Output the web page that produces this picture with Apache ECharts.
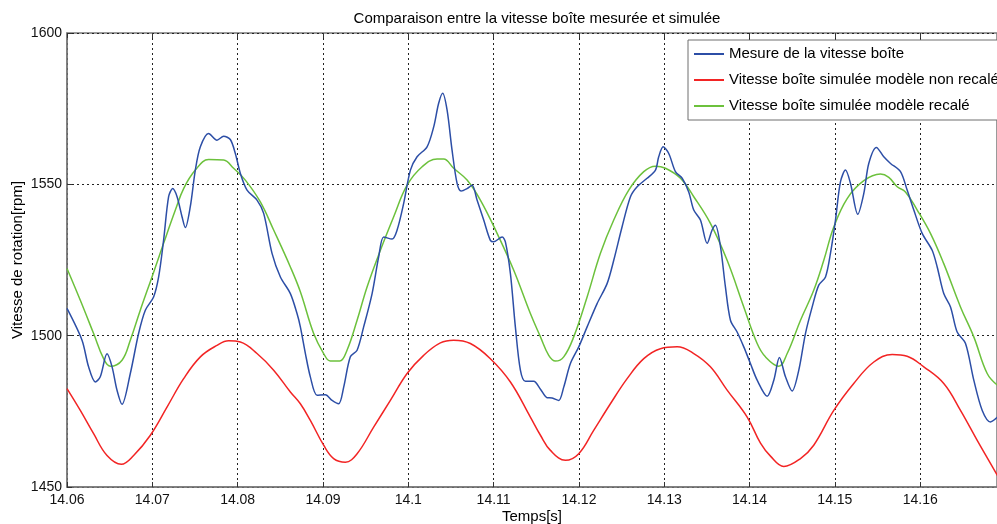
<!DOCTYPE html>
<html>
<head>
<meta charset="utf-8">
<script src="https://cdn.jsdelivr.net/npm/echarts@6/dist/echarts.min.js"></script>
<style>
html,body{margin:0;padding:0;background:#fff;}
#chart{width:997px;height:524px;}
</style>
</head>
<body>
<div id="chart"></div>
<script>
// ---- data (time [s], speed [rpm]) ----
const measTime = [14.06000,14.06176,14.06253,14.06332,14.06390,14.06469,14.06528,14.06586,14.06645,14.06742,14.06839,14.06918,14.07015,14.07074,14.07132,14.07191,14.07238,14.07290,14.07348,14.07387,14.07445,14.07504,14.07563,14.07660,14.07758,14.07836,14.07914,14.07973,14.08032,14.08110,14.08227,14.08305,14.08403,14.08501,14.08618,14.08696,14.08735,14.08794,14.08852,14.08931,14.09028,14.09107,14.09184,14.09243,14.09321,14.09400,14.09477,14.09576,14.09653,14.09712,14.09810,14.09869,14.09946,14.10025,14.10103,14.10220,14.10298,14.10356,14.10403,14.10455,14.10513,14.10572,14.10619,14.10689,14.10748,14.10806,14.10884,14.10962,14.11001,14.11100,14.11138,14.11197,14.11255,14.11314,14.11373,14.11470,14.11549,14.11627,14.11686,14.11763,14.11822,14.11900,14.11998,14.12096,14.12213,14.12330,14.12408,14.12506,14.12604,14.12682,14.12799,14.12897,14.12935,14.12987,14.13053,14.13131,14.13210,14.13287,14.13346,14.13424,14.13503,14.13561,14.13600,14.13659,14.13717,14.13776,14.13854,14.13932,14.14010,14.14089,14.14206,14.14284,14.14350,14.14421,14.14499,14.14577,14.14655,14.14734,14.14811,14.14890,14.14948,14.15007,14.15065,14.15124,14.15183,14.15268,14.15339,14.15397,14.15487,14.15573,14.15652,14.15769,14.15847,14.15925,14.16023,14.16140,14.16199,14.16276,14.16355,14.16433,14.16531,14.16628,14.16727,14.16824,14.16906];
const measRpm = [1509,1498.5,1489.7,1484.7,1486.4,1494,1489.7,1482,1477.3,1487.5,1500.7,1508.4,1512.8,1519.4,1531.5,1545.9,1548.6,1545.9,1539.3,1535.7,1542.6,1554.7,1562.4,1566.8,1564.6,1565.9,1564.8,1560.2,1553.6,1548.1,1544.8,1540.4,1527.2,1519.4,1513.9,1507.3,1502.9,1494.1,1486.4,1480.3,1480.5,1478.6,1477.5,1483,1493,1495.2,1502.9,1513.9,1526,1532.6,1531.9,1534.9,1543.7,1554.7,1559.1,1562.4,1569,1576.8,1580.1,1574.5,1561.3,1550.3,1547.8,1548.6,1549.7,1544.8,1538.2,1531.5,1531,1532.6,1531,1520.5,1502.9,1488.6,1484.9,1484.9,1482.3,1479.5,1479.4,1478.6,1483,1490.8,1496.3,1502.9,1510.6,1517.2,1524.9,1536,1545.9,1549.2,1552,1554.7,1559.1,1562.4,1560.2,1554.2,1552,1547.5,1541.5,1538.2,1530.5,1534.9,1536.5,1529.4,1516.1,1505.1,1501.2,1496.3,1490.8,1485.3,1480,1485.3,1492.8,1486.4,1481.7,1488.6,1500.7,1509.5,1516.7,1519.4,1527.2,1538.2,1550.8,1554.7,1550.3,1540.1,1547,1556.9,1562.2,1559.1,1556.9,1554.2,1548.1,1541.5,1533.8,1528.2,1522.7,1513.9,1509.5,1501.2,1497.4,1485.3,1475.3,1471.5,1473.1];

const rawTime = [14.06000,14.06156,14.06312,14.06469,14.06637,14.06781,14.06977,14.07172,14.07367,14.07563,14.07758,14.07894,14.08032,14.08227,14.08422,14.08618,14.08735,14.08852,14.09008,14.09125,14.09263,14.09400,14.09594,14.09790,14.09986,14.10180,14.10376,14.10532,14.10728,14.10962,14.11197,14.11431,14.11549,14.11666,14.11842,14.11998,14.12173,14.12369,14.12565,14.12760,14.12955,14.13151,14.13346,14.13541,14.13737,14.13972,14.14128,14.14245,14.14401,14.14597,14.14752,14.14987,14.15221,14.15456,14.15672,14.15847,14.16042,14.16276,14.16472,14.16668,14.16906];
const rawRpm = [1482.5,1475.3,1467.6,1460.4,1457.5,1460.4,1467.1,1476.4,1485.8,1493,1496.8,1498.3,1497.9,1494.1,1488.6,1481.4,1477.5,1472,1463.8,1459.4,1458.2,1461,1469.8,1478.6,1487.5,1493.5,1497.6,1498.5,1497.4,1492.4,1484.7,1473.1,1467.1,1462.1,1458.8,1461,1468.7,1477.5,1485.8,1492.4,1495.7,1496.3,1494.1,1489.7,1482,1473.1,1464.5,1460.2,1456.8,1459.4,1463.8,1475.3,1484.2,1491.3,1493.8,1493.2,1489.7,1484.2,1475.3,1465.4,1453.8];

const fitTime = [14.06000,14.06156,14.06312,14.06429,14.06508,14.06645,14.06742,14.06859,14.06996,14.07132,14.07270,14.07367,14.07504,14.07660,14.07836,14.07953,14.08090,14.08266,14.08422,14.08618,14.08735,14.08891,14.09008,14.09087,14.09196,14.09282,14.09400,14.09517,14.09673,14.09829,14.09986,14.10162,14.10338,14.10415,14.10532,14.10689,14.10845,14.11041,14.11236,14.11431,14.11549,14.11646,14.11724,14.11822,14.11939,14.12096,14.12252,14.12408,14.12584,14.12760,14.12897,14.13014,14.13190,14.13346,14.13541,14.13737,14.13932,14.14089,14.14186,14.14342,14.14441,14.14597,14.14752,14.14870,14.14987,14.15144,14.15339,14.15534,14.15632,14.15730,14.15827,14.15965,14.16120,14.16276,14.16472,14.16628,14.16785,14.16906];
const fitRpm = [1522.2,1511.7,1500.7,1492.4,1489.9,1491.9,1498.5,1508.4,1519.4,1530.5,1541.5,1548.6,1554.7,1558.2,1558,1555.3,1551.4,1544.2,1534.9,1522.7,1514.5,1500.7,1494.1,1491.6,1491.6,1495.2,1505.1,1516.1,1528.2,1539.3,1549.7,1555.8,1558.4,1558.4,1555.3,1551.4,1544.8,1533.8,1521.6,1507.3,1499.6,1493.5,1491.6,1493,1499.6,1512.8,1527.2,1538.2,1548.1,1554.2,1556,1555.3,1552,1545.9,1537.1,1524.9,1509.5,1497.4,1493,1489.9,1494.1,1505.1,1515,1524.9,1535.9,1545.3,1551.2,1553.4,1552.3,1549.2,1547.5,1541.5,1533.8,1523.8,1509.5,1499.6,1487.5,1483.6];

const seriesNames = ['Mesure de la vitesse boîte','Vitesse boîte simulée modèle non recalé','Vitesse boîte simulée modèle recalé'];
const yTicks = {min:1450, max:1600, interval:50};
const xTicks = {min:14.06, max:14.169, interval:0.01};

function pairs(t, v){ return t.map((x,i)=>[x, v[i]]); }

const FONT = '"Liberation Sans", Arial, sans-serif';
const chart = echarts.init(document.getElementById('chart'), null, {renderer:'canvas'});
const gridLine = {show:true, lineStyle:{color:'#222', type:[2,3], width:1}};
const axisLineStyle = {show:true, lineStyle:{color:'#7a7a7a', width:1.5}};
const colors = ['#2c4ea6','#f22424','#6cc13c'];

chart.setOption({
  animation:false,
  backgroundColor:'#fff',
  title:{
    text:'Comparaison entre la vitesse boîte mesurée et simulée',
    left:532, top:6, textAlign:'center',
    textStyle:{fontFamily:FONT, fontSize:15, fontWeight:'normal', color:'#000'}
  },
  grid:{left:67, right:0, top:33, bottom:37, show:true, borderColor:'#7a7a7a', borderWidth:1.5,
        backgroundColor:'#fff', containLabel:false, outerBoundsMode:'none'},
  legend:{
    orient:'vertical', left:688, top:40,
    padding:[6,10,6,6], itemWidth:30, itemHeight:2, itemGap:10, icon:'rect',
    backgroundColor:'#fff', borderColor:'#6e6e6e', borderWidth:1,
    textStyle:{fontFamily:FONT, fontSize:15, lineHeight:16, color:'#000'},
    data:seriesNames
  },
  xAxis:[{
    type:'value', min:xTicks.min, max:xTicks.max, interval:xTicks.interval,
    name:'Temps[s]', nameLocation:'middle', nameGap:22, nameMoveOverlap:false,
    nameTextStyle:{fontFamily:FONT, fontSize:15, color:'#000'},
    axisLine:axisLineStyle,
    axisTick:{show:true, inside:true, length:5, lineStyle:{color:'#333'}},
    axisLabel:{fontFamily:FONT, fontSize:14, color:'#111', margin:6, showMaxLabel:false,
      formatter:v=>String(parseFloat(v.toFixed(2)))},
    splitLine:gridLine
  },{
    type:'value', position:'top', min:xTicks.min, max:xTicks.max, interval:xTicks.interval,
    axisLine:{show:false}, axisLabel:{show:false}, splitLine:{show:false},
    axisTick:{show:true, inside:true, length:5, lineStyle:{color:'#333'}}
  }],
  yAxis:{
    type:'value', min:yTicks.min, max:yTicks.max, interval:yTicks.interval,
    name:'Vitesse de rotation[rpm]', nameLocation:'middle', nameGap:42, nameMoveOverlap:false,
    nameTextStyle:{fontFamily:FONT, fontSize:15, color:'#000'},
    axisLine:axisLineStyle,
    axisTick:{show:true, inside:true, length:5, lineStyle:{color:'#333'}},
    axisLabel:{fontFamily:FONT, fontSize:14, color:'#111', margin:5, formatter:v=>String(v)},
    splitLine:gridLine
  },
  series:[
    {name:seriesNames[0], type:'line', data:pairs(measTime, measRpm), symbol:'none', smooth:0.3,
     lineStyle:{color:colors[0], width:1.5}, itemStyle:{color:colors[0]}, z:4},
    {name:seriesNames[1], type:'line', data:pairs(rawTime, rawRpm), symbol:'none', smooth:0.4,
     lineStyle:{color:colors[1], width:1.5}, itemStyle:{color:colors[1]}, z:3},
    {name:seriesNames[2], type:'line', data:pairs(fitTime, fitRpm), symbol:'none', smooth:0.4,
     lineStyle:{color:colors[2], width:1.5}, itemStyle:{color:colors[2]}, z:3}
  ]
});
</script>
</body>
</html>
